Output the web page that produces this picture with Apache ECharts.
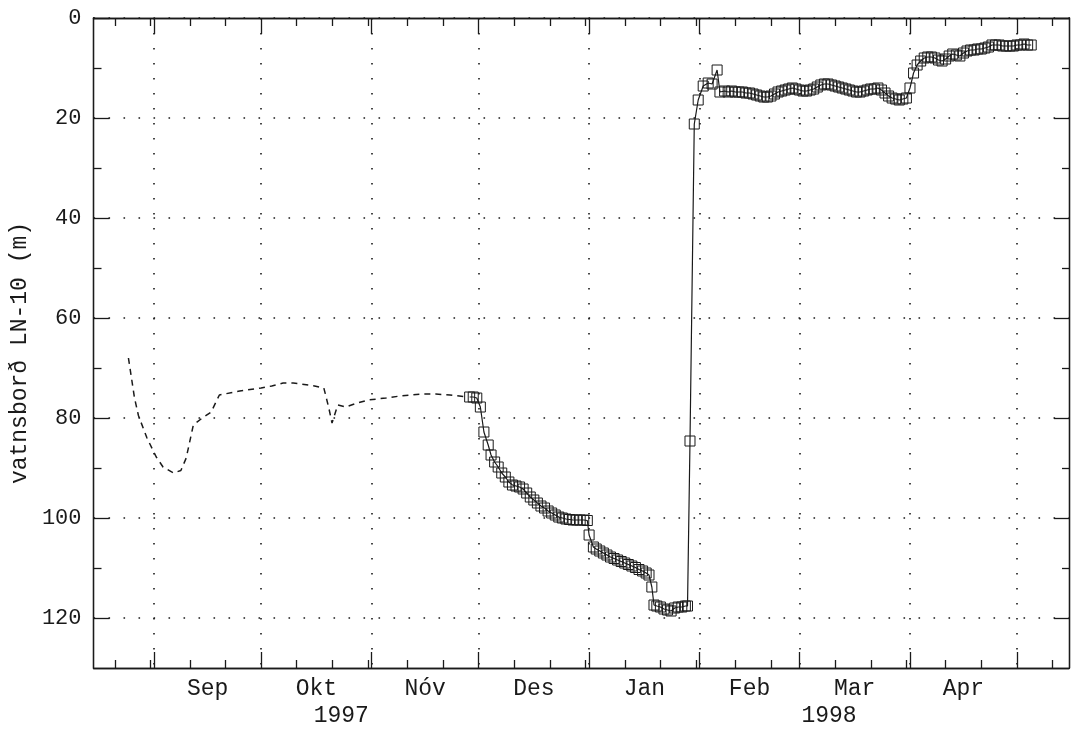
<!DOCTYPE html>
<html>
<head>
<meta charset="utf-8">
<script src="https://cdn.jsdelivr.net/npm/echarts@6/dist/echarts.min.js"></script>
<style>html,body{margin:0;padding:0;background:#fff}#c{width:1071px;height:729px}</style>
</head>
<body>
<div id="c"></div>
<script>
// x values: days counted from 1997-08-01 (day 0)
const monthNames = ['Ágú','Sep','Okt','Nóv','Des','Jan','Feb','Mar','Apr','Maí'];
const monthStarts = [0, 31, 61, 92, 122, 153, 184, 212, 243, 273, 304];
const yearLabels = ['1997', '1998'];
const yearCenters = [83.5, 220.3];
const yTickLabels = [0, 20, 40, 60, 80, 100, 120];
const yMinorTicks = [10, 30, 50, 70, 90, 110];

// dashed part (no markers)
const dashedDays = [23.8, 25.5, 26.6, 29, 31.6, 33.5, 36.5, 38.5, 40, 42, 44.5, 47, 49.3, 55, 61, 64, 67.2, 70, 72.2, 76, 78.6, 80, 80.9, 82.5, 84.8, 88, 91, 96, 100, 105.8, 110, 114, 118.9];
const dashedVals = [68, 76, 79.5, 84, 87.8, 89.8, 91, 90.5, 88, 81.4, 80, 78.8, 75.4, 74.6, 74, 73.6, 73, 73, 73.2, 73.6, 74, 78, 81, 77.4, 77.8, 77, 76.4, 76, 75.6, 75.2, 75.2, 75.4, 75.8];

// measured part (square markers)
const markDays = [119.5, 120.5, 121.5, 122.5, 123.5, 124.7, 125.5, 126.5, 127.5, 128.5, 129.5, 130.5, 131.5, 132.5, 133.5, 134.5, 135.5, 136.5, 137.5, 138.5, 139.5, 140.5, 141.5, 142.5, 143.5, 144.5, 145.5, 146.5, 147.5, 148.5, 149.5, 150.5, 151.5, 152.5,
  153, 154.2, 155, 156, 157, 158, 159, 160, 161, 162, 163, 164, 165, 166, 167, 168, 169, 169.8, 170.6, 171.2, 172, 173, 174, 175, 176, 177, 178, 179, 180, 180.6,
  181.3, 182.5, 183.6, 185, 186.4, 187.5, 188.9, 189.7,
  191, 192, 193, 194, 195, 196, 197, 198, 199, 200, 201, 202, 203, 204, 205, 206, 207, 208, 209, 210, 211, 212, 213, 214, 215, 216, 217, 218, 219, 220, 221, 222, 223, 224, 225, 226, 227, 228, 229, 230, 231, 232, 233, 234, 235, 236, 237, 238, 239, 240, 241, 242,
  243, 244, 245, 246, 247, 248, 249, 250, 251, 252, 253, 254, 255, 256, 257, 258, 259, 260, 261, 262, 263, 264, 265, 266, 267, 268, 269, 270, 271, 272, 273, 274, 275, 276, 277];
const markVals = [75.8, 75.8, 76.0, 77.8, 82.8, 85.4, 87.4, 88.8, 89.8, 91.0, 91.8, 92.8, 93.4, 93.6, 93.8, 94.2, 95.0, 95.8, 96.4, 97.0, 97.6, 98.0, 98.6, 99.0, 99.4, 99.8, 100.0, 100.2, 100.3, 100.4, 100.4, 100.4, 100.4, 100.5,
  103.4, 105.8, 106.2, 106.6, 107.0, 107.4, 107.8, 108.1, 108.4, 108.7, 109.0, 109.3, 109.6, 109.9, 110.3, 110.6, 111.0, 111.4, 113.8, 117.4, 117.6, 117.8, 118.2, 118.4, 118.6, 118.0, 117.8, 117.8, 117.6, 117.6,
  84.6, 21.2, 16.4, 13.6, 13.0, 13.2, 10.4, 14.8,
  14.6, 14.8, 14.6, 14.8, 14.8, 14.8, 15.0, 15.0, 15.2, 15.4, 15.6, 15.8, 15.8, 15.6, 15.2, 14.8, 14.6, 14.4, 14.2, 14.0, 14.2, 14.4, 14.6, 14.6, 14.4, 14.2, 13.8, 13.4, 13.2, 13.2, 13.4, 13.6, 13.8, 14.0, 14.2, 14.4, 14.6, 14.8, 14.8, 14.6, 14.4, 14.2, 14.2, 14.0, 14.4, 15.0, 15.6, 16.0, 16.2, 16.4, 16.2, 16.0,
  14.0, 11.0, 9.4, 8.6, 8.0, 7.8, 7.8, 8.0, 8.4, 8.6, 8.2, 7.6, 7.2, 7.4, 7.6, 7.0, 6.6, 6.4, 6.4, 6.2, 6.2, 6.0, 5.8, 5.4, 5.4, 5.4, 5.6, 5.6, 5.6, 5.6, 5.4, 5.4, 5.2, 5.4, 5.4];

const X_MIN = 14, X_MAX = 287.6;
const FONT = '"Liberation Mono", "DejaVu Sans Mono", monospace';
const INK = '#1a1a1a';

const majorTicks = monthStarts.filter(d => d > X_MIN && d < X_MAX);
const minorTicks = [];
for (let i = 0; i < monthStarts.length - 1; i++) {
  for (const off of [10, 20, 30]) {
    const d = monthStarts[i] + off;
    if (d < monthStarts[i + 1] && d > X_MIN && d < X_MAX) minorTicks.push(d);
  }
}
const monthMids = [], midName = {};
for (let i = 0; i < monthStarts.length - 1; i++) {
  const m = (monthStarts[i] + monthStarts[i + 1]) / 2;
  if (m > X_MIN + 10 && m < X_MAX - 10) { monthMids.push(m); midName[m] = monthNames[i]; }
}
const yearName = {};
yearCenters.forEach((c, i) => yearName[c] = yearLabels[i]);

const dotted = { show: true, lineStyle: { color: INK, width: 1.6, type: [1.6, 13.4] } };

function xAx(pos, ticks, len, extra) {
  return Object.assign({
    type: 'value', position: pos, min: X_MIN, max: X_MAX,
    axisLine: { show: true, onZero: false, lineStyle: { color: INK, width: 1.3 } },
    axisTick: { show: true, inside: true, length: len, customValues: ticks, lineStyle: { color: INK, width: 1.3 } },
    axisLabel: { show: false },
    splitLine: { show: false }
  }, extra || {});
}
function yAx(pos, ticks, len, extra) {
  return Object.assign({
    type: 'value', position: pos, min: 0, max: 130, inverse: true,
    axisLine: { show: true, onZero: false, lineStyle: { color: INK, width: 1.3 } },
    axisTick: { show: true, inside: true, length: len, customValues: ticks, lineStyle: { color: INK, width: 1.3 } },
    axisLabel: { show: false },
    splitLine: { show: false }
  }, extra || {});
}

const option = {
  animation: false,
  backgroundColor: '#fff',
  grid: { left: 92, right: 2, top: 18, bottom: 61, containLabel: false },
  xAxis: [
    xAx('bottom', majorTicks, 16, {
      splitLine: dotted,
      axisLabel: { show: true, customValues: monthMids, margin: 9, fontFamily: FONT, fontSize: 23, color: INK,
        formatter: v => midName[v] || '' }
    }),
    xAx('bottom', minorTicks, 8),
    xAx('bottom', majorTicks, 0, {
      axisLine: { show: false }, axisTick: { show: false },
      axisLabel: { show: true, customValues: yearCenters, margin: 36, fontFamily: FONT, fontSize: 23, color: INK,
        formatter: v => yearName[v] || '' }
    }),
    xAx('top', majorTicks, 16),
    xAx('top', minorTicks, 8)
  ],
  yAxis: [
    yAx('left', yTickLabels, 16, {
      splitLine: dotted,
      axisLabel: { show: true, customValues: yTickLabels, margin: 12, fontFamily: FONT, fontSize: 22, color: INK },
      name: 'vatnsborð LN-10 (m)', nameLocation: 'middle', nameRotate: 90, nameGap: 59,
      nameTextStyle: { fontFamily: FONT, fontSize: 23, color: INK, padding: [0, 20, 0, 0] }
    }),
    yAx('left', yMinorTicks, 8),
    yAx('right', yTickLabels, 15),
    yAx('right', yMinorTicks, 7)
  ],
  series: [
    {
      type: 'line', xAxisIndex: 0, yAxisIndex: 0,
      data: dashedDays.map((d, i) => [d, dashedVals[i]]),
      symbol: 'none', silent: true,
      lineStyle: { color: INK, width: 1.5, type: [6, 5] }
    },
    {
      type: 'line', xAxisIndex: 0, yAxisIndex: 0,
      data: markDays.map((d, i) => [d, markVals[i]]),
      symbol: 'rect', symbolSize: 10, silent: true,
      itemStyle: { color: 'rgba(0,0,0,0)', borderColor: INK, borderWidth: 1 },
      lineStyle: { color: INK, width: 1.2 }
    }
  ]
};
const chart = echarts.init(document.getElementById('c'), null, { renderer: 'canvas' });
chart.setOption(option);
</script>
</body>
</html>
